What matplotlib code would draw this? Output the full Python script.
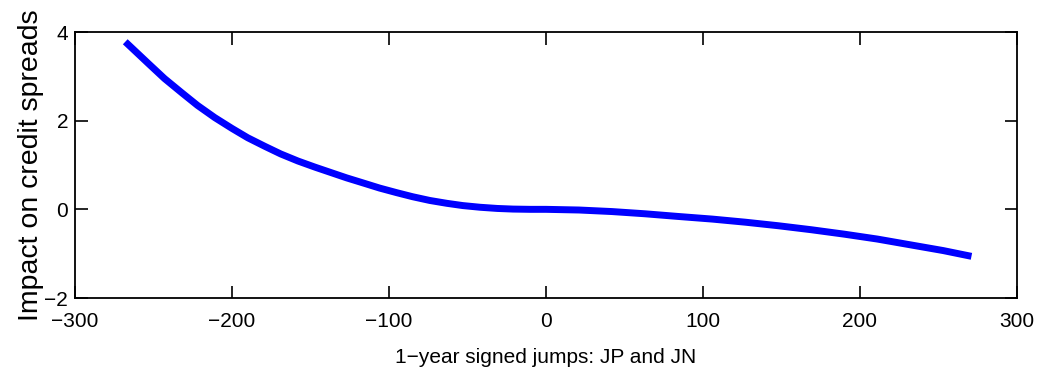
import matplotlib
matplotlib.use('Agg')
import matplotlib.pyplot as plt

# signed jump size vs. impact on credit spreads
jumps = [-268, -262, -253, -243, -232, -222, -211, -200, -190, -179, -169, -158,
         -147, -137, -127, -116, -106, -95, -85, -74, -63, -53, -42, -31, -21,
         -10, 0, 21, 42, 63, 84, 106, 127, 148, 169, 190, 211, 232, 253, 271]
impact = [3.78, 3.58, 3.28, 2.95, 2.63, 2.345, 2.07, 1.825, 1.615, 1.42, 1.25, 1.09,
          0.95, 0.83, 0.71, 0.59, 0.48, 0.375, 0.285, 0.20, 0.135, 0.085, 0.047, 0.02,
          0.006, 0.0, 0.0, -0.015, -0.05, -0.10, -0.16, -0.22, -0.29, -0.37, -0.46,
          -0.56, -0.67, -0.80, -0.93, -1.06]

xticks = [-300, -200, -100, 0, 100, 200, 300]
yticks = [-2, 0, 2, 4]

plt.rcParams['font.family'] = ['Liberation Sans', 'DejaVu Sans']

fig = plt.figure(figsize=(10.39, 3.74), dpi=100)
ax = fig.add_axes([0.0722, 0.2032, 0.9066, 0.7112])
ax.plot(jumps, impact, color='#0000ff', linewidth=5, solid_capstyle='butt',
        solid_joinstyle='round')
ax.set_xlim(-300, 300)
ax.set_ylim(-2, 4)
ax.set_xticks(xticks)
ax.set_yticks(yticks)
ax.tick_params(direction='in', length=9, width=1.2, top=True, right=True,
               labelsize=15)
ax.tick_params(axis='x', pad=10)
ax.tick_params(axis='y', pad=5)
for s in ax.spines.values():
    s.set_linewidth(1.3)
ax.set_xlabel('1\u2212year signed jumps: JP and JN', fontsize=15, labelpad=12)
ax.set_ylabel('Impact on credit spreads', fontsize=20.5, labelpad=0)
fig.savefig('out.png', dpi=100)
